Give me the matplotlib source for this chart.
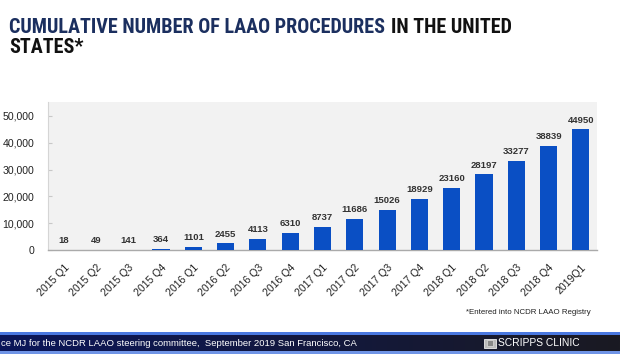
import numpy as np
import matplotlib
matplotlib.use("Agg")
import matplotlib.pyplot as plt
from matplotlib.patches import Rectangle
from matplotlib import font_manager as fm

categories = ["2015 Q1", "2015 Q2", "2015 Q3", "2015 Q4",
              "2016 Q1", "2016 Q2", "2016 Q3", "2016 Q4",
              "2017 Q1", "2017 Q2", "2017 Q3", "2017 Q4",
              "2018 Q1", "2018 Q2", "2018 Q3", "2018 Q4", "2019Q1"]
values = [18, 49, 141, 364, 1101, 2455, 4113, 6310, 8737, 11686,
          15026, 18929, 23160, 28197, 33277, 38839, 44950]
yticks = [0, 10000, 20000, 30000, 40000, 50000]
ytick_labels = ["0", "10,000", "20,000", "30,000", "40,000", "50,000"]

files = [f.fname for f in fm.fontManager.ttflist]

def find_file(prefixes, exclude=("italic", "oblique")):
    for p in prefixes:
        for fn in files:
            base = fn.replace("\\", "/").split("/")[-1].lower()
            if base.startswith(p) and not any(e in base for e in exclude):
                return fn
    return None

reg_file = find_file(["liberationsans-regular"])
bold_file = find_file(["liberationsans-bold"])
title_file = find_file(["liberationsansnarrow-bold", "robotocondensed-bold",
                        "notosans-condensedbold", "dejavusanscondensed-bold"])

def FP(size, bold=False, fname=None):
    f = fname if fname else (bold_file if bold else reg_file)
    if f:
        return fm.FontProperties(fname=f, size=size)
    return fm.FontProperties(family="DejaVu Sans", size=size * 0.9,
                             weight="bold" if bold else "normal")

W, H = 620, 360
fig = plt.figure(figsize=(W / 100, H / 100), dpi=100)
fig.patch.set_facecolor("white")

def fx(px):
    return px / W

def fy(py):
    return 1 - py / H

# Main axes
ax = fig.add_axes([fx(48), fy(250), fx(597) - fx(48), fy(102) - fy(250)])
ax.set_facecolor("#f2f2f2")
x = np.arange(len(categories))
ax.bar(x, values, width=0.53, color="#0a4fc4", zorder=3)
ax.set_xlim(-0.5, len(categories) - 0.5)
ax.set_ylim(0, 55200)
ax.set_yticks(yticks)
ax.set_yticklabels(ytick_labels, fontproperties=FP(7.6), color="#222222")
ax.set_xticks(x)
ax.set_xticklabels(categories, rotation=45, ha="right", rotation_mode="anchor",
                   fontproperties=FP(7.6), color="#222222")
ax.tick_params(axis="x", length=0, pad=9)
ax.tick_params(axis="y", length=3, direction="in", color="#c8c8c8", pad=10)
for s in ["top", "right"]:
    ax.spines[s].set_visible(False)
ax.spines["left"].set_color("#d5d5d5")
ax.spines["bottom"].set_color("#aaaaaa")
ax.spines["left"].set_linewidth(0.8)
ax.spines["bottom"].set_linewidth(1.0)

for xi, v in zip(x, values):
    ax.annotate(f"{v}", (xi, v), xytext=(0, 3.5), textcoords="offset points",
                ha="center", va="bottom", fontproperties=FP(6.8, bold=True),
                color="#333333", zorder=4)

# Title
if title_file:
    tfp = FP(14.5, fname=title_file)
else:
    tfp = fm.FontProperties(family="DejaVu Sans", size=11.5, weight="bold")
t1 = fig.text(fx(9), fy(33), "CUMULATIVE NUMBER OF LAAO PROCEDURES",
              color="#1b2f5f", ha="left", va="baseline", fontproperties=tfp)
fig.canvas.draw()
bb = t1.get_window_extent()
fig.text(bb.x1 / W + fx(6), fy(33), "IN THE UNITED",
         color="#111111", ha="left", va="baseline", fontproperties=tfp)
fig.text(fx(9), fy(53), "STATES*", color="#111111", ha="left",
         va="baseline", fontproperties=tfp)

# Footnote
fig.text(fx(591), fy(312), "*Entered into NCDR LAAO Registry",
         fontproperties=FP(5.7), color="#222222", ha="right", va="center")

# Banner
bax = fig.add_axes([0, fy(354), 1, fy(332) - fy(354)])
bax.set_xlim(0, 1)
bax.set_ylim(0, 1)
bax.axis("off")
grad = np.linspace(0, 1, 256)
c0 = np.array([0x0b, 0x16, 0x5a]) / 255.0
c1 = np.array([0x1a, 0x1a, 0x22]) / 255.0
img = (c0[None, :] * (1 - grad[:, None]) + c1[None, :] * grad[:, None])[None, :, :]
bax.imshow(img, extent=[0, 1, 0.1, 0.9], aspect="auto", zorder=1)
bax.add_patch(Rectangle((0, 0.86), 1, 0.14, color="#4a78e0", zorder=2, lw=0))
bax.add_patch(Rectangle((0, 0.0), 1, 0.12, color="#6f94e6", zorder=2, lw=0))
bax.text(fx(1), 0.48, "ce MJ for the NCDR LAAO steering committee,  September 2019 San Francisco, CA",
         color="white", fontproperties=FP(6.8), ha="left", va="center", zorder=3)
bax.text(fx(498), 0.48, "SCRIPPS CLINIC", color="white", fontproperties=FP(7.4),
         ha="left", va="center", zorder=3)
bax.add_patch(Rectangle((fx(484), 0.28), fx(12), 0.42, facecolor="#bbbbbb",
                        edgecolor="#eeeeee", lw=0.6, zorder=3))
bax.add_patch(Rectangle((fx(487), 0.36), fx(6), 0.26, facecolor="#888888",
                        edgecolor="#dddddd", lw=0.5, zorder=4))

fig.savefig("out.png", dpi=100, facecolor="white")
